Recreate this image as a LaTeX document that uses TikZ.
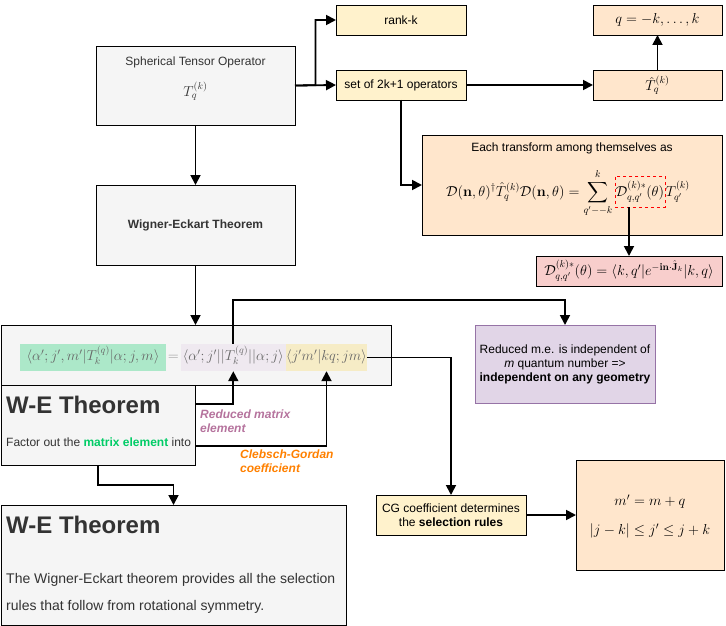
\documentclass[tikz,border=0pt]{standalone}
\usepackage{amsmath,amssymb}
\usepackage[no-math]{fontspec}
\setmainfont{Liberation Sans}
\usetikzlibrary{arrows.meta,calc}
\definecolor{grayF}{HTML}{F5F5F5}
\definecolor{yelF}{HTML}{FFF2CC}
\definecolor{peachF}{HTML}{FFE6CC}
\definecolor{pinkF}{HTML}{F8CECC}
\definecolor{purpF}{HTML}{E1D5E7}
\definecolor{purpS}{HTML}{9673A6}
\definecolor{txt}{HTML}{333333}
\definecolor{hlGreen}{HTML}{ACE8C9}
\definecolor{hlLav}{HTML}{EFE9F0}
\definecolor{hlYel}{HTML}{F6ECC6}
\definecolor{redmat}{HTML}{B5739D}
\definecolor{orangeT}{HTML}{FF8000}
\definecolor{greenT}{HTML}{00CC66}
\definecolor{fgray}{HTML}{666666}
\begin{document}
\begin{tikzpicture}[x=1pt,y=-1pt,
  box/.style={draw=black,line width=0.9pt,rectangle,inner sep=0pt,outer sep=0pt,anchor=north west},
  wh/.style 2 args={minimum width=#1pt,minimum height=#2pt},
  gbox/.style={box,fill=grayF,text=txt},
  ybox/.style={box,fill=yelF},
  obox/.style={box,fill=peachF},
  pbox/.style={box,fill=pinkF},
  vbox/.style={box,fill=purpF,draw=purpS},
  hl/.style={rectangle,inner sep=0pt,minimum height=27pt,text=fgray,text height=10pt,text depth=4pt},
  t12/.style={font=\fontsize{12}{14}\selectfont},
  mth/.style={font=\fontsize{14.5}{17}\selectfont},
  big/.style={font=\fontsize{24}{28}\selectfont\bfseries,text=txt,inner sep=0pt,anchor=west},
  lbl/.style={font=\fontsize{12}{14}\selectfont\bfseries\itshape,inner sep=0pt,anchor=west,align=left},
  conn/.style={draw=black,line width=1.8pt,-{Triangle[length=10pt,width=10pt]}},
]
\useasboundingbox (0,0) rectangle (726,626);

% top part
\node[gbox,wh={199}{79}] (sto) at (96,46) {};
\node[t12,text=txt] (stoT) at (195.5,62) {Spherical Tensor Operator};
\node[mth,text=txt] (stoM) at (195.5,91) {$T_q^{(k)}$};

\node[ybox,wh={130}{30},t12] (rank) at (336,5) {rank-k};
\node[ybox,wh={130}{30},t12] (set) at (336,70) {set of 2k+1 operators};
\node[obox,wh={129}{30},mth] (qbox) at (593,5) {$q=-k,\ldots,k$};
\node[obox,wh={129}{30},mth] (thq) at (593,70) {$\hat T_q^{(k)}$};

\node[obox,wh={300}{100}] (each) at (422,135) {};
\node[t12] (eachT) at (572,148) {Each transform among themselves as};
\node[mth,anchor=base west,inner sep=0pt] (lhs) at (446,196) {$\displaystyle \mathcal D(\mathbf n,\theta)^\dagger\hat T_q^{(k)}\mathcal D(\mathbf n,\theta)=\sum_{q'--k}^{k}$};
\node[rectangle,draw=red,dashed,line width=0.8pt,inner xsep=1pt,inner ysep=0pt,minimum height=31pt,anchor=base west,mth] (dsh) at ([xshift=2pt]lhs.base east) {$\mathcal D^{(k)*}_{q,q'}(\theta)$};
\node[mth,anchor=base west,inner sep=0pt] (tq) at (dsh.base east) {$T_{q'}^{(k)}$};

\node[pbox,wh={186}{30},mth] (pink) at (536,256) {$\mathcal D^{(k)*}_{q,q'}(\theta)=\langle k,q'|e^{-\mathbf{in}\cdot\hat{\mathbf J}_k}|k,q\rangle$};

\node[gbox,wh={199}{80},font=\fontsize{12}{14}\selectfont\bfseries] (we) at (96,185) {Wigner-Eckart Theorem};

% formula box
\node[gbox,wh={390}{60}] (fbox) at (1,325) {};
\node[hl,fill=hlGreen,minimum width=145.4pt,mth] (grn) at (93,357.5) {$\langle\alpha';j',m'|T_k^{(q)}|\alpha;j,m\rangle$};
\node[hl,mth,text=fgray!70] (eq) at (173.3,357.5) {$=$};
\node[hl,fill=hlLav,minimum width=104.7pt,mth] (lav) at (233.3,357.5) {$\langle\alpha';j'||T_k^{(q)}||\alpha;j\rangle$};
\node[hl,fill=hlYel,minimum width=78.4pt,mth] (yel) at (326.5,357.5) {$\langle j'm'|kq;jm\rangle$};

\node[vbox,wh={180}{78},t12,align=center] (purp) at (475,325) {Reduced m.e. is independent of\\\textit{m} quantum number =>\\\textbf{independent on any geometry}};

\node[gbox,wh={194}{80}] (weS) at (1,385) {};
\node[big] (weST) at (6,405) {W-E Theorem};
\node[t12,text=txt,inner sep=0pt,anchor=west] (weSB) at (6,442) {Factor out the \textbf{\color{greenT}matrix element} into};

\node[lbl,text=redmat] (lblR) at (200,421) {Reduced matrix\\element};
\node[lbl,text=orangeT] (lblC) at (240,461) {Clebsch-Gordan\\coefficient};

\node[ybox,wh={150}{40},t12,align=center] (cg) at (376,495) {CG coefficient determines\\the \textbf{selection rules}};

\node[obox,wh={148}{110}] (sel) at (576,460) {};
\node[mth] (selA) at (650,502) {$m'=m+q$};
\node[mth] (selB) at (650,531) {$|j-k|\le j'\le j+k$};

\node[gbox,wh={345}{120}] (bot) at (1,505) {};
\node[big] (botT) at (6,525) {W-E Theorem};
\node[font=\fontsize{14}{27}\selectfont,text=txt,inner sep=0pt,anchor=west,align=left] (botB) at (6,593.5) {The Wigner-Eckart theorem provides all the selection\\rules that follow from rotational symmetry.};

% connectors
\draw[conn] (sto.east) -- ($(sto.east)!0.5!(set.west)$) |- (rank.west);
\draw[conn] (sto.east) -- (set.west);
\draw[conn] (set.east) -- (thq.west);
\draw[conn] (thq.north) -- (qbox.south);
\draw[conn] (set.south) |- (each.west);
\draw[conn] (dsh.south -| pink.north) -- (pink.north);
\draw[conn] (sto.south) -- (we.north);
\draw[conn] (we.south) -- (we.south |- fbox.north);
\draw[conn] (lav.north) -- ++(0,-44) -| (purp.north);
\draw[conn] (yel.east) -| (cg.north);
\draw[conn] ([yshift=21pt]weS.east) -| (lav.south);
\draw[conn] ([yshift=-21pt]weS.east) -| (yel.south);
\draw[conn] (weS.south) -- ++(0,20) -| (bot.north);
\draw[conn] (cg.east) -- (cg.east -| sel.west);
\end{tikzpicture}
\end{document}
